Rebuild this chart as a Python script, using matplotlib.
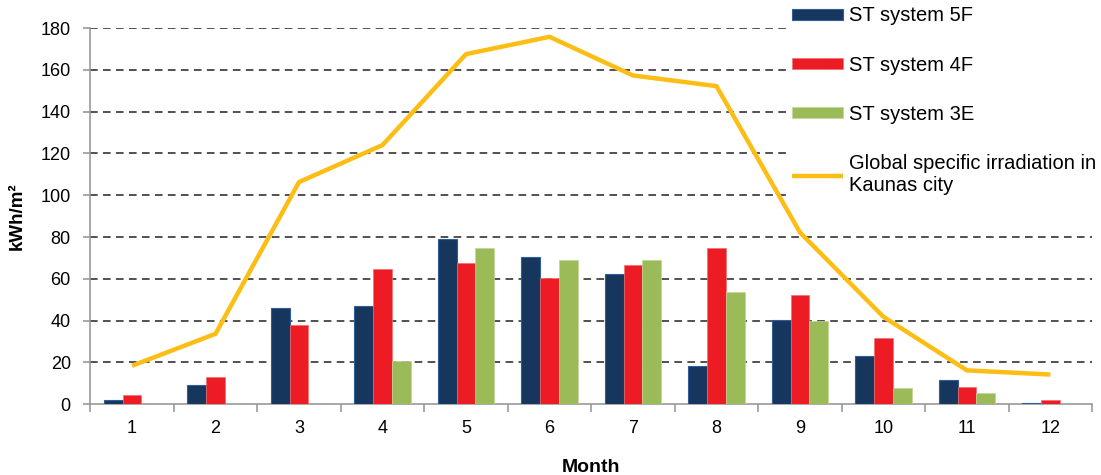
import matplotlib.pyplot as plt
import numpy as np

months = [str(m) for m in range(1, 13)]
st_5f = [2, 9.3, 46, 47, 79, 70.5, 62.5, 18.5, 40.5, 23, 11.5, 0.7]
st_4f = [4.5, 12.8, 37.8, 64.8, 67.6, 60.5, 66.7, 74.7, 52.5, 31.8, 8.3, 2.0]
st_3e = [0, 0, 0, 20.6, 74.8, 69, 69, 53.8, 40, 7.9, 5.2, 0]
irradiation = [18.4, 33.7, 106.3, 124, 167.5, 175.8, 157.3, 152.2, 82.2, 41.8, 16.2, 14.2]

plt.rcParams['font.family'] = ['Liberation Sans', 'DejaVu Sans']

fig = plt.figure(figsize=(11.01, 4.75), dpi=100)
ax = fig.add_axes([0.082, 0.149, 0.91, 0.792])

x = np.arange(len(months))
w = 0.224

b1 = ax.bar(x - w, st_5f, w, color='#17365d', edgecolor='#2e5d99', linewidth=0.8, label='ST system 5F', zorder=3)
b2 = ax.bar(x, st_4f, w, color='#ed1c24', edgecolor='#f07070', linewidth=0.5, label='ST system 4F', zorder=3)
b3 = ax.bar(x + w, st_3e, w, color='#9bbb59', edgecolor='#c3d69b', linewidth=0.5, label='ST system 3E', zorder=3)
ln, = ax.plot(x, irradiation, color='#fcbd14', linewidth=3.2, solid_capstyle='butt',
              label='Global specific irradiation in\nKaunas city', zorder=4)

ax.set_xlim(-0.5, 11.5)
ax.set_ylim(0, 180)
ax.set_yticks(np.arange(0, 181, 20))
ax.set_xticks(x)
ax.set_xticklabels(months)
ax.set_xticks(np.arange(-0.5, 12, 1), minor=True)
ax.tick_params(axis='x', which='major', length=0, labelsize=13, pad=11)
ax.tick_params(axis='x', which='minor', length=6, color='#999999', width=1.2)
ax.tick_params(axis='y', length=5, color='#999999', width=1.2, labelsize=13, pad=9)

for y in range(20, 181, 20):
    ax.axhline(y, color='#222222', linestyle=(0, (5, 3.5)), linewidth=1.1, zorder=1)

for s in ['top', 'right']:
    ax.spines[s].set_visible(False)
for s in ['left', 'bottom']:
    ax.spines[s].set_color('#999999')
    ax.spines[s].set_linewidth(1.2)

ax.set_ylabel('kWh/m²', fontsize=13.5, fontweight='bold', labelpad=11)
ax.set_xlabel('Month', fontsize=14, fontweight='bold', labelpad=16)

leg = fig.legend(handles=[b1, b2, b3, ln], loc='upper left', bbox_to_anchor=(0.716, 0.995),
                 fontsize=14.5, frameon=True, facecolor='white', edgecolor='none', framealpha=1,
                 handlelength=2.5, handleheight=0.5, labelspacing=1.5,
                 handletextpad=0.3, borderpad=0.2, borderaxespad=0)
leg.set_zorder(10)

fig.savefig('out.png', dpi=100)
